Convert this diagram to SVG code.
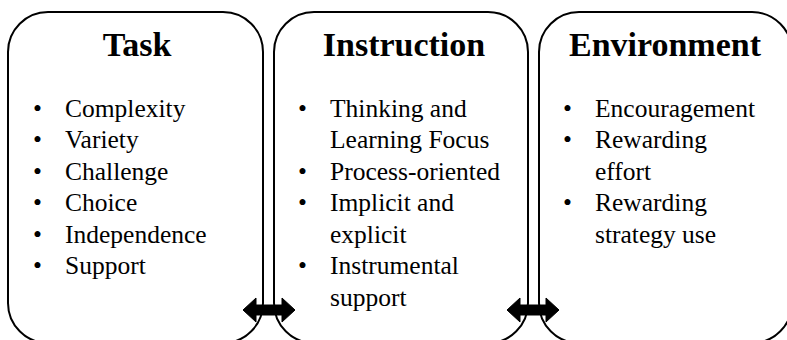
<svg xmlns="http://www.w3.org/2000/svg" width="787" height="340" viewBox="0 0 787 340">
<style>
.box{fill:#fff;stroke:#000;stroke-width:2}
text{font-family:'Liberation Serif','Times New Roman','DejaVu Serif',serif;fill:#000}
.title{font-size:34px;font-weight:bold;text-anchor:middle}
.item{font-size:25.5px}
.arrow{fill:#000;stroke:#000;stroke-width:1}
</style>
<rect width="787" height="340" fill="#fff"/>
<g id="task">
<rect class="box" x="8" y="12" width="255" height="331" rx="40" ry="40"/>
<text class="title" x="137" y="56">Task</text>
<text class="item" x="33" y="116.5">•</text><text class="item" x="65" y="116.5">Complexity</text>
<text class="item" x="33" y="148">•</text><text class="item" x="65" y="148">Variety</text>
<text class="item" x="33" y="179.5">•</text><text class="item" x="65" y="179.5">Challenge</text>
<text class="item" x="33" y="211">•</text><text class="item" x="65" y="211">Choice</text>
<text class="item" x="33" y="242.5">•</text><text class="item" x="65" y="242.5">Independence</text>
<text class="item" x="33" y="274">•</text><text class="item" x="65" y="274">Support</text>
</g>
<g id="instruction">
<rect class="box" x="274" y="12" width="254" height="331" rx="40" ry="40"/>
<text class="title" x="404" y="56">Instruction</text>
<text class="item" x="298" y="116.5">•</text><text class="item" x="330" y="116.5">Thinking and</text>
<text class="item" x="330" y="148">Learning Focus</text>
<text class="item" x="298" y="179.5">•</text><text class="item" x="330" y="179.5">Process-oriented</text>
<text class="item" x="298" y="211">•</text><text class="item" x="330" y="211">Implicit and</text>
<text class="item" x="330" y="242.5">explicit</text>
<text class="item" x="298" y="274">•</text><text class="item" x="330" y="274">Instrumental</text>
<text class="item" x="330" y="305.5">support</text>
</g>
<g id="environment">
<rect class="box" x="539" y="12" width="253" height="331" rx="40" ry="40"/>
<text class="title" x="665" y="56">Environment</text>
<text class="item" x="563" y="116.5">•</text><text class="item" x="595" y="116.5">Encouragement</text>
<text class="item" x="563" y="148">•</text><text class="item" x="595" y="148">Rewarding</text>
<text class="item" x="595" y="179.5">effort</text>
<text class="item" x="563" y="211">•</text><text class="item" x="595" y="211">Rewarding</text>
<text class="item" x="595" y="242.5">strategy use</text>
</g>
<g id="connectors">
<polygon class="arrow" points="243,310 256,298 256,305 282,305 282,298 295,310 282,322 282,315 256,315 256,322"/>
<polygon class="arrow" points="507,310 520,298 520,305 546,305 546,298 559,310 546,322 546,315 520,315 520,322"/>
</g>
</svg>
